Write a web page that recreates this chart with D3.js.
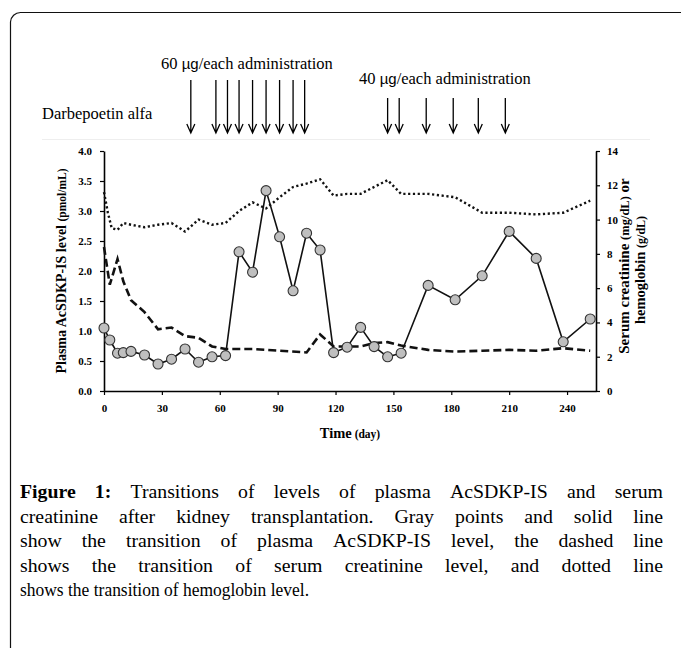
<!DOCTYPE html>
<html>
<head>
<meta charset="utf-8">
<script src="https://cdn.jsdelivr.net/npm/d3@7"></script>
<style>
  body { margin: 0; background: #fff; }
  svg { display: block; }
</style>
</head>
<body>
<svg id="fig" width="681" height="648"></svg>
<script>
/* Data */
var acDays = [0,3,7,10,14,21,28,35,42,49,56,63,70,77,84,91,98,105,112,119,126,133,140,147,154,168,182,196,210,224,238,252];
var acVals = [1.05,0.85,0.63,0.64,0.66,0.60,0.45,0.53,0.70,0.48,0.57,0.59,2.32,1.98,3.34,2.57,1.67,2.63,2.35,0.64,0.73,1.06,0.74,0.57,0.63,1.76,1.52,1.92,2.66,2.21,0.82,1.20];

var crDays = [0,3,7,10,14,21,28,35,42,49,56,63,77,91,105,112,119,126,133,140,147,154,168,182,196,210,224,238,252];
var crVals = [8.4,6.2,7.7,6.4,5.3,4.6,3.6,3.7,3.2,3.1,2.6,2.45,2.45,2.35,2.25,3.3,2.6,2.6,2.6,2.8,2.85,2.65,2.4,2.3,2.35,2.4,2.35,2.5,2.35];

var hbDays = [0,2,4,7,10,14,21,28,35,42,49,56,63,70,77,84,91,98,105,112,119,126,133,140,147,154,168,182,196,210,224,238,252];
var hbVals = [11.6,10.4,9.5,9.4,9.8,9.7,9.55,9.7,9.8,9.3,10.0,9.7,9.8,10.5,11.0,10.65,11.3,11.9,12.1,12.35,11.4,11.5,11.5,11.9,12.3,11.5,11.5,11.3,10.4,10.4,10.3,10.4,11.1];

var dose60Days = [45,58,64,70,77,84,91,98,104];
var dose40Days = [147,153,167,181,194,208];

var xTicks = [0,30,60,90,120,150,180,210,240];
var yLeftTicks = [0,0.5,1,1.5,2,2.5,3,3.5,4];
var yRightTicks = [0,2,4,6,8,10,12,14];

var captionLines = [
  "Figure 1: Transitions of levels of plasma AcSDKP-IS and serum",
  "creatinine after kidney transplantation. Gray points and solid line",
  "show the transition of plasma AcSDKP-IS level, the dashed line",
  "shows the transition of serum creatinine level, and dotted line",
  "shows the transition of hemoglobin level."
];

var serif = "'Liberation Serif', 'Times New Roman', serif";
var svg = d3.select("#fig");

// frame round the figure
svg.append("path")
  .attr("d", "M10.5,648 V22 A10,10 0 0 1 20.5,12.5 H681")
  .attr("fill", "none").attr("stroke", "#111").attr("stroke-width", 1.2);
svg.append("line")
  .attr("x1", 42).attr("x2", 650).attr("y1", 139.5).attr("y2", 139.5)
  .attr("stroke", "#eee");

// scales
var x = d3.scaleLinear().domain([0, 255]).range([104, 596]);
var yL = d3.scaleLinear().domain([0, 4]).range([391, 151]);
var yR = d3.scaleLinear().domain([0, 14]).range([391, 151]);

function styleAxis(g) {
  g.attr("font-family", serif).attr("font-size", 11).attr("font-weight", "bold");
  g.select(".domain").attr("stroke-width", 1.6);
  g.selectAll(".tick line").attr("stroke-width", 1.2);
  g.selectAll(".tick text").attr("fill", "#000");
}

svg.append("g").attr("transform", "translate(0,391)")
  .call(d3.axisBottom(x).tickValues(xTicks).tickSize(4).tickSizeOuter(0).tickPadding(9))
  .call(styleAxis);
svg.append("g").attr("transform", "translate(104,0)")
  .call(d3.axisLeft(yL).tickValues(yLeftTicks).tickFormat(d3.format(".1f")).tickSize(4).tickSizeOuter(0).tickPadding(8))
  .call(styleAxis);
svg.append("g").attr("transform", "translate(596,0)")
  .call(d3.axisRight(yR).tickValues(yRightTicks).tickSize(4).tickSizeOuter(0).tickPadding(7))
  .call(styleAxis);

// axis titles
var tx = svg.append("text").attr("x", 350).attr("y", 438)
  .attr("text-anchor", "middle").attr("font-family", serif).attr("font-weight", "bold");
tx.append("tspan").attr("font-size", 14.5).text("Time");
tx.append("tspan").attr("font-size", 11.5).text(" (day)");

var tl = svg.append("text").attr("transform", "translate(66,271) rotate(-90)")
  .attr("text-anchor", "middle").attr("font-family", serif).attr("font-weight", "bold");
tl.append("tspan").attr("font-size", 14).text("Plasma AcSDKP-IS level ");
tl.append("tspan").attr("font-size", 11.5).text("(pmol/mL)");

var tr1 = svg.append("text").attr("transform", "translate(629,266) rotate(-90)")
  .attr("text-anchor", "middle").attr("font-family", serif).attr("font-weight", "bold");
tr1.append("tspan").attr("font-size", 15).text("Serum creatinine ");
tr1.append("tspan").attr("font-size", 12.5).text("(mg/dL)");
tr1.append("tspan").attr("font-size", 15).text(" or");
var tr2 = svg.append("text").attr("transform", "translate(645,270) rotate(-90)")
  .attr("text-anchor", "middle").attr("font-family", serif).attr("font-weight", "bold");
tr2.append("tspan").attr("font-size", 14.5).text("hemoglobin ");
tr2.append("tspan").attr("font-size", 12).text("(g/dL)");

// series
var hb = hbDays.map(function(d, i) { return [d, hbVals[i]]; });
var cr = crDays.map(function(d, i) { return [d, crVals[i]]; });
var ac = acDays.map(function(d, i) { return [d, acVals[i]]; });

var lineR = d3.line().x(function(d) { return x(d[0]); }).y(function(d) { return yR(d[1]); });
var lineL = d3.line().x(function(d) { return x(d[0]); }).y(function(d) { return yL(d[1]); });

svg.append("path").datum(hb).attr("d", lineR)
  .attr("fill", "none").attr("stroke", "#111").attr("stroke-width", 2.4)
  .attr("stroke-dasharray", "2.2 2.6");
svg.append("path").datum(cr).attr("d", lineR)
  .attr("fill", "none").attr("stroke", "#111").attr("stroke-width", 2.6)
  .attr("stroke-dasharray", "8 4");
svg.append("path").datum(ac).attr("d", lineL)
  .attr("fill", "none").attr("stroke", "#111").attr("stroke-width", 1.6);
svg.selectAll("circle.ac").data(ac).enter().append("circle")
  .attr("class", "ac")
  .attr("cx", function(d) { return x(d[0]); })
  .attr("cy", function(d) { return yL(d[1]); })
  .attr("r", 5)
  .attr("fill", "#bfbfbf").attr("stroke", "#333").attr("stroke-width", 1.1);

// administration arrows
function drawArrows(days, top, tip) {
  var g = svg.append("g").attr("stroke", "#000").attr("stroke-width", 1.3).attr("fill", "none");
  g.selectAll("path").data(days).enter().append("path")
    .attr("d", function(d) {
      var px = x(d);
      return "M" + px + "," + top + "V" + tip +
        "M" + (px - 4) + "," + (tip - 9) + "L" + px + "," + tip + "L" + (px + 4) + "," + (tip - 9);
    });
}
drawArrows(dose60Days, 80, 133);
drawArrows(dose40Days, 98, 133);

function doseLabel(xp, yp, amount) {
  var t = svg.append("text").attr("x", xp).attr("y", yp)
    .attr("font-family", serif).attr("font-size", 16.5);
  t.append("tspan").text(amount + " ");
  t.append("tspan").attr("font-family", "'Liberation Sans', Arial, sans-serif").attr("font-size", 15).text("µg");
  t.append("tspan").text("/each administration");
}
doseLabel(161, 68.5, "60");
doseLabel(359, 84, "40");
svg.append("text").attr("x", 42).attr("y", 119)
  .attr("font-family", serif).attr("font-size", 16.5).text("Darbepoetin alfa");

// caption, justified between 20 and 663 (last line left as is)
var capLeft = 20, capRight = 663, capTop = 498, capStep = 24.5, capSize = 19.8;
captionLines.forEach(function(line, li) {
  var y = capTop + li * capStep;
  if (li === captionLines.length - 1) {
    svg.append("text").attr("x", capLeft).attr("y", y)
      .attr("font-family", serif).attr("font-size", capSize)
      .attr("textLength", 289).attr("lengthAdjust", "spacingAndGlyphs")
      .text(line);
    return;
  }
  var words = line.split(" ");
  var nodes = words.map(function(w, wi) {
    var bold = li === 0 && wi < 2;
    return svg.append("text").attr("y", y)
      .attr("font-family", serif).attr("font-size", capSize)
      .attr("font-weight", bold ? "bold" : "normal")
      .text(w);
  });
  var widths = nodes.map(function(n) { return n.node().getComputedTextLength(); });
  var gap = (capRight - capLeft - d3.sum(widths)) / (words.length - 1);
  var cx = capLeft;
  nodes.forEach(function(n, i) {
    n.attr("x", cx);
    cx += widths[i] + gap;
  });
});
</script>
</body>
</html>
